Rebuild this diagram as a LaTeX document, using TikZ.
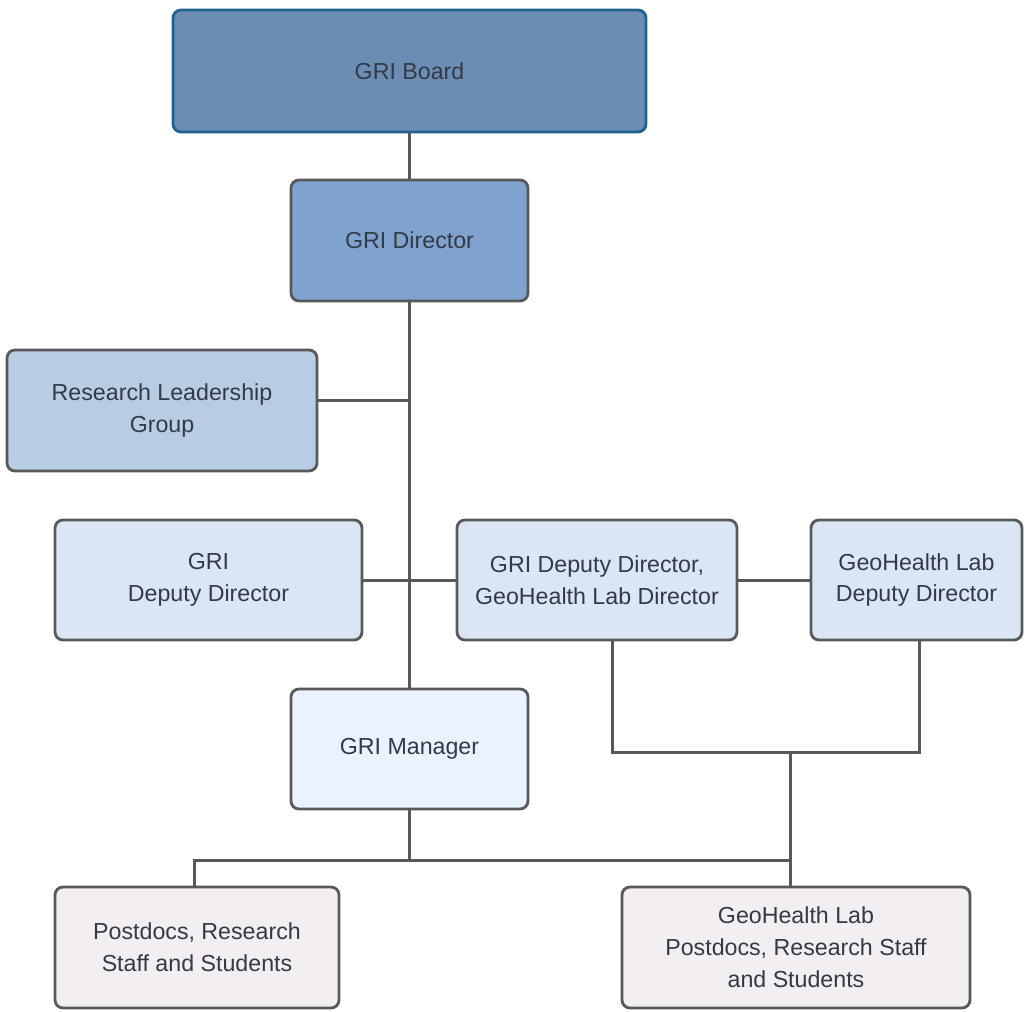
\documentclass[tikz,border=0pt]{standalone}
\usepackage{fontspec}
\setmainfont{Liberation Sans}
\definecolor{boardfill}{HTML}{6B8CB3}
\definecolor{boardline}{HTML}{22628E}
\definecolor{dirfill}{HTML}{7FA2CF}
\definecolor{rlgfill}{HTML}{B8CCE4}
\definecolor{depfill}{HTML}{DAE6F5}
\definecolor{mgrfill}{HTML}{EAF3FD}
\definecolor{stafffill}{HTML}{F2EEF2}
\definecolor{boxline}{HTML}{595959}
\definecolor{textcol}{HTML}{333A45}
\begin{document}
\begin{tikzpicture}[x=0.5pt,y=-0.5pt,
  every node/.style={rectangle,rounded corners=4pt,draw=boxline,line width=1.4pt,
    text=textcol,align=center,inner sep=0pt,
    font=\fontsize{11.6}{16}\selectfont},
  link/.style={draw=boxline,line width=1.5pt}]
\useasboundingbox (0,0) rectangle (1025,1012);
\node [fill=boardfill,draw=boardline,minimum width=236.5pt,minimum height=61pt] (board) at (409.5,71) {GRI Board};
\node [fill=dirfill,minimum width=118.5pt,minimum height=60.5pt] (director) at (409.5,240.5) {GRI Director};
\node [fill=rlgfill,minimum width=155pt,minimum height=60.5pt] (rlg) at (162,410.5) {Research Leadership\\Group};
\node [fill=depfill,minimum width=153.5pt,minimum height=60pt] (deputy) at (208.5,580) {GRI\\Deputy Director};
\node [fill=depfill,minimum width=140pt,minimum height=60pt] (ghdir) at (597,580) {GRI Deputy Director,\\GeoHealth Lab Director};
\node [fill=depfill,minimum width=105.5pt,minimum height=60pt] (ghdep) at (916.5,580) {GeoHealth Lab\\Deputy Director};
\node [fill=mgrfill,minimum width=118.5pt,minimum height=60pt] (manager) at (409.5,749) {GRI Manager};
\node [fill=stafffill,minimum width=142pt,minimum height=60.5pt] (postdocs) at (197,947.5) {Postdocs, Research\\Staff and Students};
\node [fill=stafffill,minimum width=174pt,minimum height=60.5pt] (ghpost) at (796,947.5) {GeoHealth Lab\\Postdocs, Research Staff\\and Students};
\coordinate (rlgjoin) at (409.5,400);
\coordinate (bracketl) at (612,752);
\coordinate (bracketr) at (919,752);
\coordinate (ghjoin) at (790,752);
\coordinate (staffjoin) at (409.5,860);
\coordinate (staffl) at (194,860);
\draw [link] (board) -- (director);
\draw [link] (director.south) -- (manager.north);
\draw [link] (rlgjoin -| rlg.east) -- (rlgjoin);
\draw [link] (deputy.east) -- (ghdir.west);
\draw [link] (ghdir.east) -- (ghdep.west);
\draw [link] (bracketl |- ghdir.south) -- (bracketl) -- (bracketr) -- (bracketr |- ghdep.south);
\draw [link] (ghjoin) -- (ghjoin |- ghpost.north);
\draw [link] (manager.south) -- (staffjoin);
\draw [link] (staffl |- postdocs.north) -- (staffl) -- (staffjoin -| ghjoin);
\end{tikzpicture}
\end{document}
